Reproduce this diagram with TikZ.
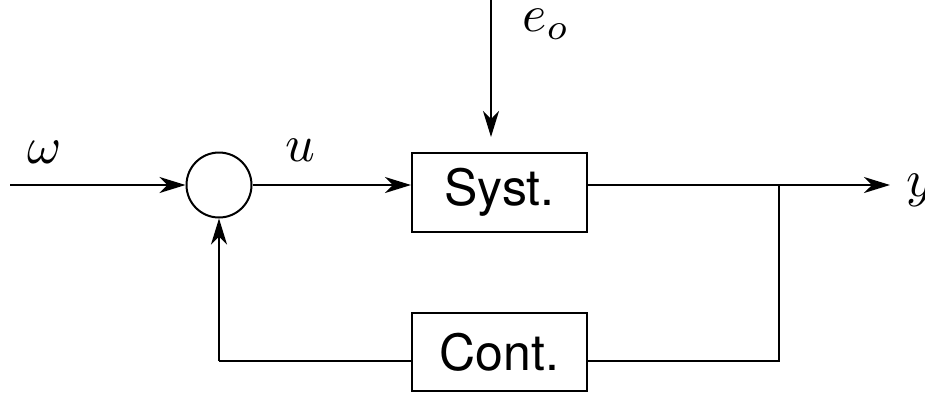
\documentclass[tikz,border=0pt]{standalone}
\usepackage{graphicx}
\usepackage{fontspec}
\setsansfont{TeX Gyre Heros}
\usetikzlibrary{arrows.meta}
\newcommand{\biglbl}[1]{\scalebox{5.2}{$#1$}}
\tikzset{
  conn/.style={line width=2pt},
  arr/.style={conn,-{Stealth[length=26pt,width=16pt,inset=8pt]}},
  blockbox/.style={draw,line width=2pt,rectangle,minimum width=175pt,inner sep=0pt,font=\sffamily\fontsize{50}{60}\selectfont},
  lbl/.style={inner sep=0pt}
}
\begin{document}
\begin{tikzpicture}[x=1pt,y=-1pt]
\useasboundingbox (0,0) rectangle (925,392);
\node[draw,circle,line width=2pt,minimum size=65pt,inner sep=0pt] (sum) at (219,185) {};
\node[blockbox,minimum height=79pt] (syst) at (499.5,192.5) {Syst.};
\node[blockbox,minimum height=78pt] (cont) at (499.5,352) {Cont.};
\coordinate (in) at (10,185);
\coordinate (eotop) at (491,0);
\coordinate (eoend) at (491,137);
\coordinate (out) at (890,185);
\coordinate (branch) at (779,185);
\coordinate (fbcorner) at (779,361);
\coordinate (fbleft) at (219,361);
\node[lbl] (w) at (45,152) {\biglbl{\omega}};
\node[lbl] (ulab) at (300,150) {\biglbl{u}};
\node[lbl] (eo) at (546,24) {\biglbl{e_o}};
\node[lbl,anchor=west] (ylab) at (906,190) {\biglbl{y}};
\draw[arr] (in) -- (sum.west);
\draw[arr] (sum.east) -- (sum.east -| syst.west);
\draw[arr] (eotop) -- (eoend);
\draw[arr] (sum.east -| syst.east) -- (out);
\draw[conn] (branch) -- (fbcorner) -- (fbcorner -| cont.east);
\draw[conn] (fbcorner -| cont.west) -- (fbleft);
\draw[arr] (fbleft) -- (sum.south);
\end{tikzpicture}
\end{document}
